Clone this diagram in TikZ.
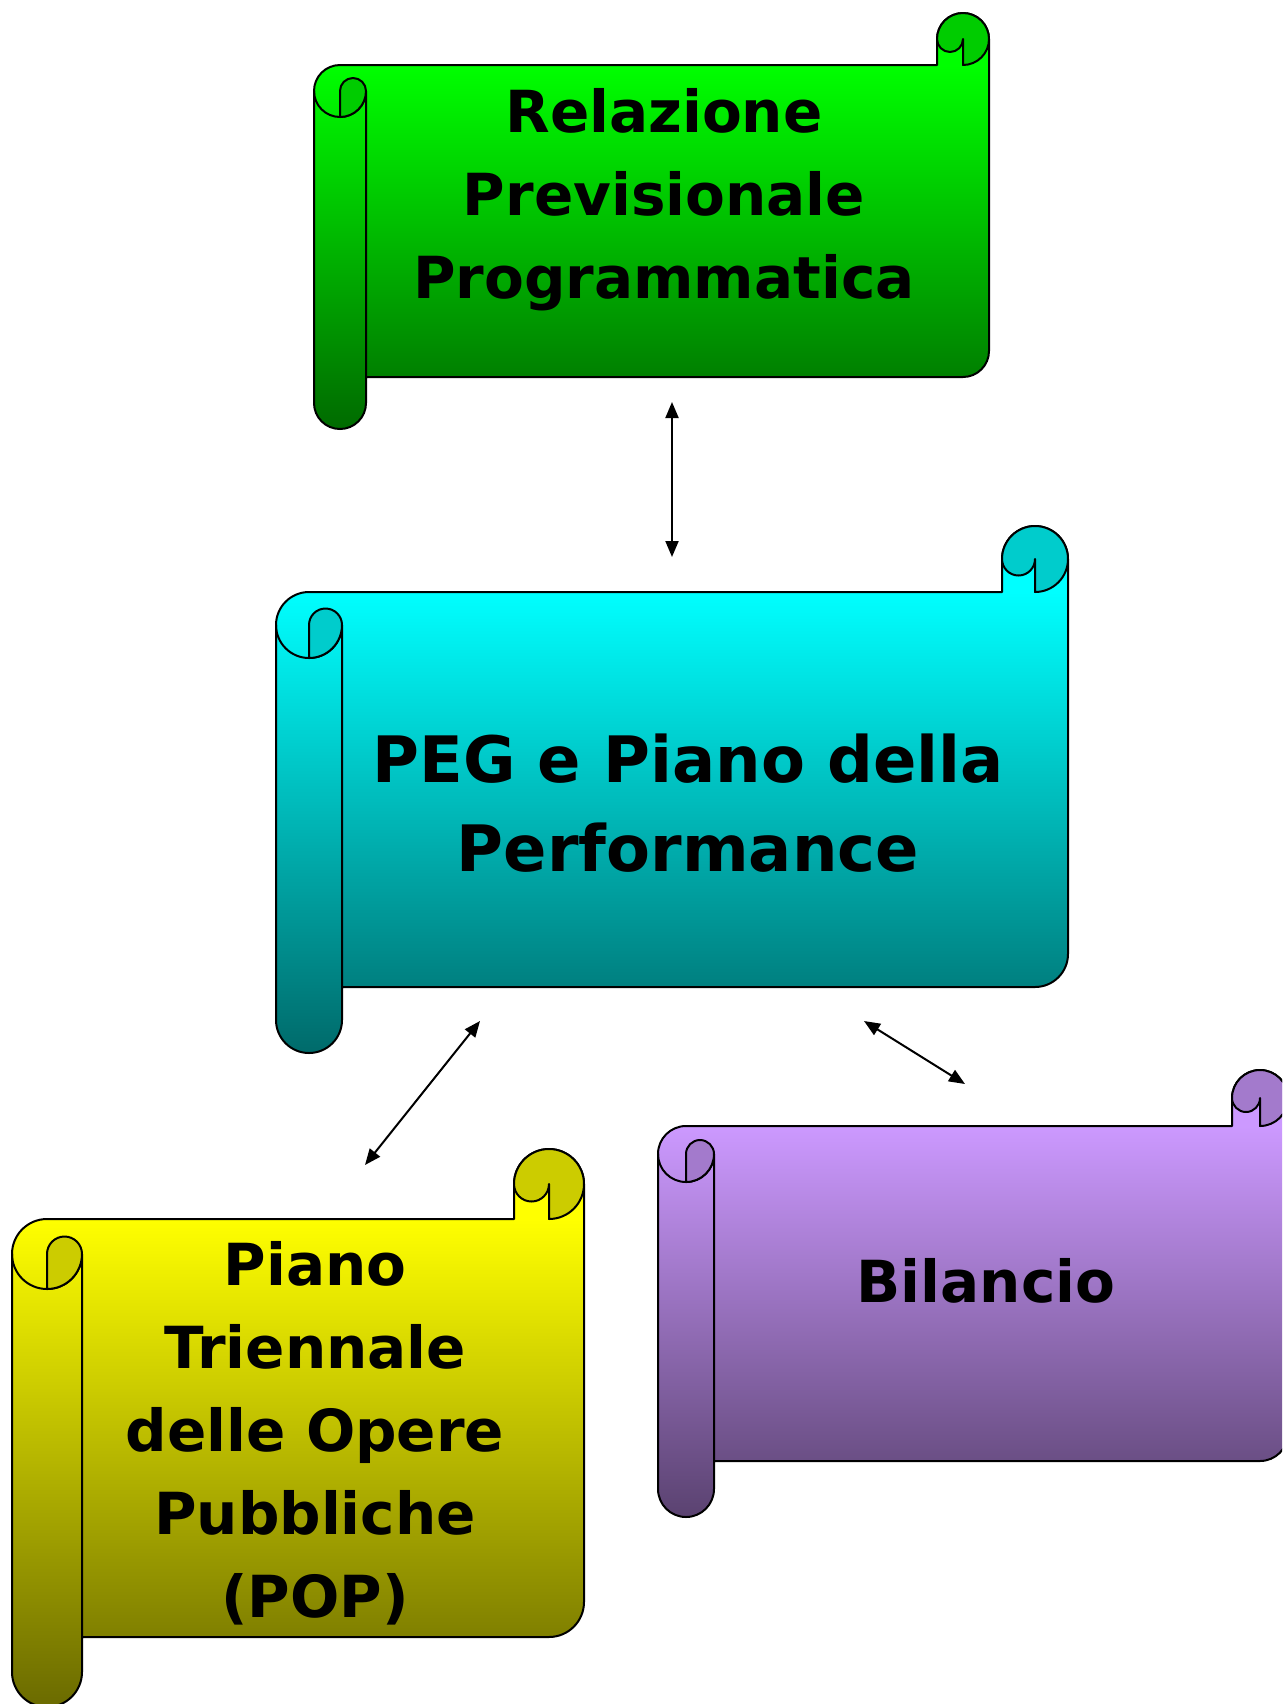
\documentclass[tikz,border=0pt]{standalone}
\usepackage{fontspec}
\setmainfont{DejaVu Sans}
\usetikzlibrary{arrows.meta}
\newcommand{\scOutline}{({\scA},{\scT+3*\scR}) arc[start angle=180,end angle=90,radius=\scP pt]
 -- ({\scB-2*\scR},{\scT+2*\scR}) -- ({\scB-2*\scR},{\scT+\scR})
 arc[start angle=180,end angle=0,radius=\scP pt]
 -- ({\scB},{\scD-3*\scR}) arc[start angle=0,end angle=-90,radius=\scP pt]
 -- ({\scA+2*\scR},{\scD-2*\scR}) -- ({\scA+2*\scR},{\scD-\scR})
 arc[start angle=0,end angle=-180,radius=\scP pt] -- cycle}
% #1 x0, #2 x1, #3 yTop, #4 yBottom, #5 r (px), #6 top colour, #7 bottom colour, #8 curl colour
\newcommand{\drawscroll}[8]{%
\pgfmathsetmacro\scA{#1}%
\pgfmathsetmacro\scB{#2}%
\pgfmathsetmacro\scT{#3}%
\pgfmathsetmacro\scD{#4}%
\pgfmathsetmacro\scR{#5}%
\pgfmathsetmacro\scP{#5*0.5}%
\pgfmathsetmacro\scH{#5*0.25}%
\begin{scope}
\clip \scOutline;
\fill[#6] ({\scA},{\scT-2}) rectangle ({\scB},{\scT+2*\scR});
\shade[top color=#6,bottom color=#7] ({\scA},{\scT+2*\scR}) rectangle ({\scB},{\scD+1});
\end{scope}
\draw[scrollline] \scOutline;
\draw[scrollline] ({\scA},{\scT+3*\scR}) arc[start angle=180,end angle=360,radius=\scP pt]
 -- ({\scA+2*\scR},{\scD-2*\scR});
\filldraw[scrollline,fill=#8] ({\scA+\scR},{\scT+4*\scR}) -- ({\scA+\scR},{\scT+3*\scR})
 arc[start angle=180,end angle=0,radius=\scH pt]
 arc[start angle=0,end angle=-90,radius=\scP pt] -- cycle;
\filldraw[scrollline,fill=#8] ({\scB-2*\scR},{\scT+\scR})
 arc[start angle=180,end angle=360,radius=\scH pt]
 -- ({\scB-\scR},{\scT+2*\scR})
 arc[start angle=-90,end angle=180,radius=\scP pt] -- cycle;
}
\definecolor{grTop}{HTML}{00FF00}
\definecolor{grBot}{HTML}{006A00}
\definecolor{grCurl}{HTML}{00CC00}
\definecolor{cyTop}{HTML}{00FFFF}
\definecolor{cyBot}{HTML}{006A6A}
\definecolor{cyCurl}{HTML}{00CCCC}
\definecolor{yeTop}{HTML}{FFFF00}
\definecolor{yeBot}{HTML}{6A6A00}
\definecolor{yeCurl}{HTML}{CCCC00}
\definecolor{puTop}{HTML}{CC99FF}
\definecolor{puBot}{HTML}{5A4270}
\definecolor{puCurl}{HTML}{A37ACC}
\begin{document}
\begin{tikzpicture}[x=0.5pt,y=-0.5pt,
  scrollline/.style={draw=black,line width=1pt,line join=round},
  label29/.style={align=center,text=black,font=\bfseries\fontsize{29}{41.5}\selectfont},
  label32/.style={align=center,text=black,font=\bfseries\fontsize{32}{44.5}\selectfont},
  conn/.style={line width=1pt,{Triangle[length=8pt,width=6.5pt]}-{Triangle[length=8pt,width=6.5pt]}}]
\useasboundingbox (0,0) rectangle (1282,1704);
\clip (0,0) rectangle (1282,1704);
\drawscroll{314}{989}{13}{429}{26}{grTop}{grBot}{grCurl}
\drawscroll{276}{1068}{526}{1053}{33}{cyTop}{cyBot}{cyCurl}
\drawscroll{12}{584}{1149}{1707}{35}{yeTop}{yeBot}{yeCurl}
\drawscroll{658}{1288}{1070}{1517}{28}{puTop}{puBot}{puCurl}
\node[label29] (rpp) at (664,200) {Relazione\\Previsionale\\Programmatica};
\node[label32] (peg) at (688,803) {PEG e Piano della\\Performance};
\node[label29] (pop) at (315,1433) {Piano\\Triennale\\delle Opere\\Pubbliche\\(POP)};
\node[label29] (bil) at (986,1281) {Bilancio};
\coordinate (rppS) at (672,402);
\coordinate (pegN) at (672,557);
\coordinate (pegSW) at (480,1021);
\coordinate (popN) at (365,1165);
\coordinate (pegSE) at (864,1021);
\coordinate (bilN) at (965,1084);
\draw[conn] (rppS) -- (pegN);
\draw[conn] (pegSW) -- (popN);
\draw[conn] (pegSE) -- (bilN);
\end{tikzpicture}
\end{document}
